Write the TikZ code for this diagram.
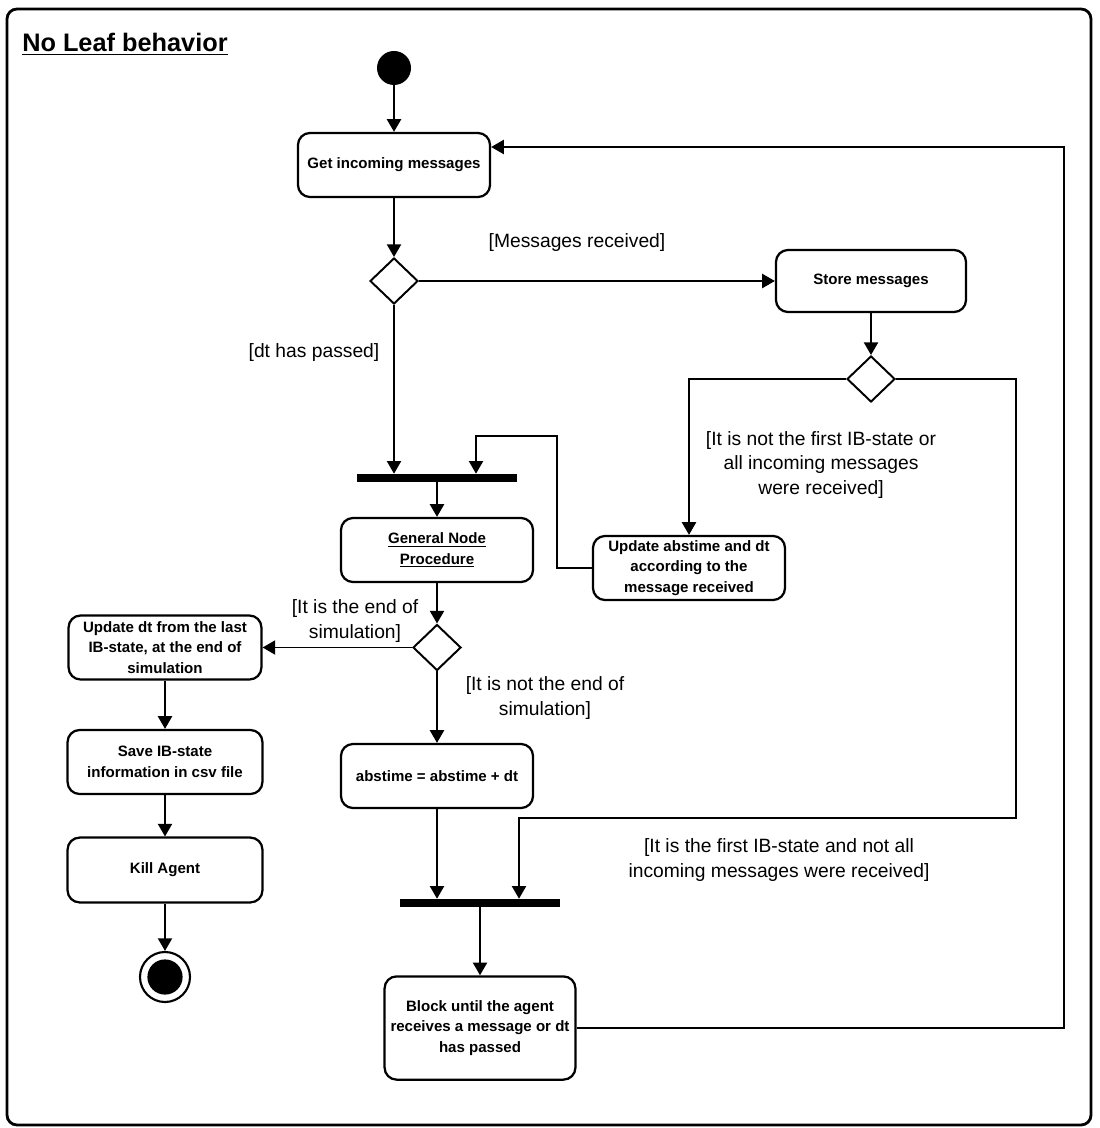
\documentclass[tikz,border=0pt]{standalone}
\usepackage{fontspec}
\setmainfont{Liberation Sans}
\usetikzlibrary{shapes.geometric,arrows.meta}
\newcommand\boxfont{\bfseries\fontsize{10.7}{14.6}\selectfont}
\newcommand\lblfont{\fontsize{13.7}{17.4}\selectfont}
\newcommand\titlefont{\bfseries\fontsize{18}{22}\selectfont}

\begin{document}
\begin{tikzpicture}[x=0.025cm,y=-0.025cm,
  act/.style={draw, line width=1.6pt, rounded corners=0.3cm, align=center,
              font=\boxfont, inner sep=2pt},
  dec/.style={draw, diamond, line width=1.4pt, minimum width=1.2cm,
              minimum height=1.15cm, inner sep=0pt},
  bar/.style={fill=black, draw=none, minimum height=0.2cm, inner sep=0pt},
  flow/.style={line width=1.4pt, -{Triangle[length=9pt,width=10pt]}},
  lbl/.style={font=\lblfont, align=center},
]
\useasboundingbox (0,0) rectangle (1099,1128);
\fill[white] (0,0) rectangle (1099,1128);

% outer frame and title
\draw[line width=2pt, rounded corners=0.25cm] (7,9) rectangle (1091,1125);
\node[anchor=base west, font=\titlefont, inner sep=0pt] (title) at (22,52)
  {\underline{No Leaf behavior}};

% initial and final nodes
\node[circle, fill=black, minimum size=0.85cm, inner sep=0pt] (start) at (394,68) {};
\node[circle, draw, line width=1.5pt, minimum size=1.25cm, inner sep=0pt] (end) at (165,977) {};
\fill (end.center) circle (0.44cm);

% actions
\node[act, minimum width=4.8cm, minimum height=1.6cm] (get) at (394,165) {Get incoming messages};
\node[act, minimum width=4.75cm, minimum height=1.55cm] (store) at (871,281) {Store messages};
\node[act, minimum width=4.8cm, minimum height=1.6cm] (upd) at (689,568)
  {Update abstime and dt\\according to the\\message received};
\node[act, minimum width=4.8cm, minimum height=1.6cm] (gen) at (437,550)
  {\underline{General Node}\\\underline{Procedure}};
\node[act, minimum width=4.82cm, minimum height=1.6cm] (updt) at (165,647.5)
  {Update dt from the last\\IB-state, at the end of\\simulation};
\node[act, minimum width=4.87cm, minimum height=1.6cm] (save) at (165,762)
  {Save IB-state\\information in csv file};
\node[act, minimum width=4.87cm, minimum height=1.62cm] (kill) at (165,870) {Kill Agent};
\node[act, minimum width=4.8cm, minimum height=1.6cm] (abst) at (437,776) {abstime = abstime + dt};
\node[act, minimum width=4.77cm, minimum height=2.58cm] (block) at (480,1028)
  {Block until the agent\\receives a message or dt\\has passed};

% decisions
\node[dec] (d1) at (394,281) {};
\node[dec] (d2) at (871,379) {};
\node[dec] (d3) at (437,647.5) {};

% synchronisation bars
\node[bar, minimum width=4cm] (fork1) at (437,478) {};
\node[bar, minimum width=4cm] (fork2) at (480,903) {};

% bend points
\coordinate (r1) at (1016,818);
\coordinate (r2) at (519,818);
\coordinate (k1) at (557,436);
\coordinate (k2) at (476,436);
\coordinate (b1) at (1064,147);

% flows
\draw[flow] (start) -- (get);
\draw[flow] (get) -- (d1);
\draw[flow] (d1) -- (store);
\draw[flow] (store) -- (d2);
\draw[flow] (d2.west) -| (upd.north);
\draw[flow] (d2.east) -| (r1) -- (r2) -- (r2 |- fork2.north);
\draw[flow] (d1.south) -- (d1.south |- fork1.north);
\draw[flow] (upd.west) -| (k1) -- (k2) -- (k2 |- fork1.north);
\draw[flow] (fork1.south -| gen.north) -- (gen.north);
\draw[flow] (gen) -- (d3);
\draw[flow] (d3) -- (updt);
\draw[flow] (d3) -- (abst);
\draw[flow] (abst.south) -- (abst.south |- fork2.north);
\draw[flow] (fork2.south -| block.north) -- (block.north);
\draw[flow] (block.east) -| (b1) -- (get.east |- b1);
\draw[flow] (updt) -- (save);
\draw[flow] (save) -- (kill);
\draw[flow] (kill) -- (end);

% guards
\node[lbl] (g1) at (577,243) {[Messages received]};
\node[lbl] (g2) at (314,353) {[dt has passed]};
\node[lbl] (g3) at (821,465) {[It is not the first IB-state or\\all incoming messages\\were received]};
\node[lbl] (g4) at (779,860) {[It is the first IB-state and not all\\incoming messages were received]};
\node[lbl] (g5) at (355,621) {[It is the end of\\simulation]};
\node[lbl] (g6) at (545,698) {[It is not the end of\\simulation]};
\end{tikzpicture}
\end{document}
